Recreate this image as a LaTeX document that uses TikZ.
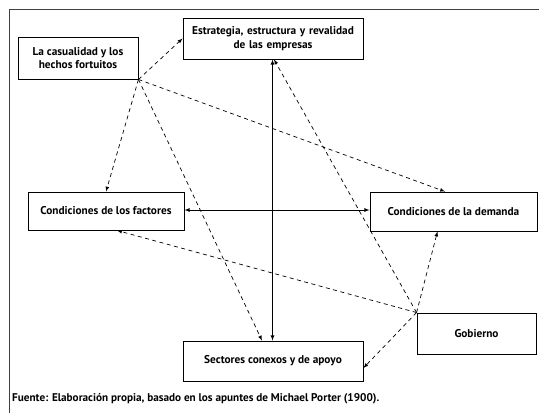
\documentclass[tikz,border=0pt]{standalone}
\usepackage{fontspec}
\setmainfont{PT Sans}
\usepackage{tikz}

\tikzset{
  caja/.style={draw=black, line width=0.9pt, align=center, inner sep=1pt,
    font=\fontsize{11.3}{13.5}\selectfont\bfseries},
  flecha/.style={-latex, dashed, dash pattern=on 4pt off 3.5pt, line width=0.7pt},
  doble/.style={latex-latex, line width=0.8pt}
}

\begin{document}
\begin{tikzpicture}[x=1pt, y=-1pt]
    \useasboundingbox (0,0) rectangle (539,413);
    \draw[black!75, line width=0.9pt] (9,413) -- (9,9) -- (539,9);

    \node[caja, minimum width=120pt, minimum height=42pt] (casual) at (78,58) {La casualidad y los\\hechos fortuitos};
    \node[caja, minimum width=180pt, minimum height=41pt, text width=178pt] (estrat) at (273,38.5) {Estrategia, estructura y revalidad\\de las empresas};
    \node[caja, minimum width=156pt, minimum height=38pt] (fact) at (106,211) {Condiciones de los factores};
    \node[caja, minimum width=167pt, minimum height=39pt] (dem) at (453.5,211.5) {Condiciones de la demanda};
    \node[caja, minimum width=180pt, minimum height=40pt] (sect) at (273,361) {Sectores conexos y de apoyo};
    \node[caja, minimum width=119pt, minimum height=41pt] (gob) at (476.5,333.5) {Gobierno};

    \node[anchor=base west, inner sep=0pt, font=\fontsize{11.2}{13}\selectfont\bfseries] (fuente) at (12,401) {Fuente: Elaboración propia, basado en los apuntes de Michael Porter (1900).};

    % relaciones principales
    \draw[doble] ([xshift=-0.5pt]estrat.south) -- ([xshift=-0.5pt]sect.north);
    \draw[doble] ([yshift=1pt]fact.east) -- ([yshift=1.5pt]dem.west);

    % la casualidad
    \draw[flecha] (casual.south east) -- (estrat.west);
    \draw[flecha] (casual.south east) -- (fact.north);
    \draw[flecha] (casual.south east) -- ([xshift=-11pt]sect.north);
    \draw[flecha] (casual.south east) -- ([xshift=-8.5pt]dem.north);

    % el gobierno
    \draw[flecha] (gob.north west) -- ([xshift=1pt]estrat.south);
    \draw[flecha] (gob.north west) -- ([xshift=11pt]fact.south);
    \draw[flecha] (gob.north west) -- ([xshift=-16pt]dem.south);
    \draw[flecha] (gob.north west) -- ([yshift=-7pt]sect.east);
\end{tikzpicture}
\end{document}
